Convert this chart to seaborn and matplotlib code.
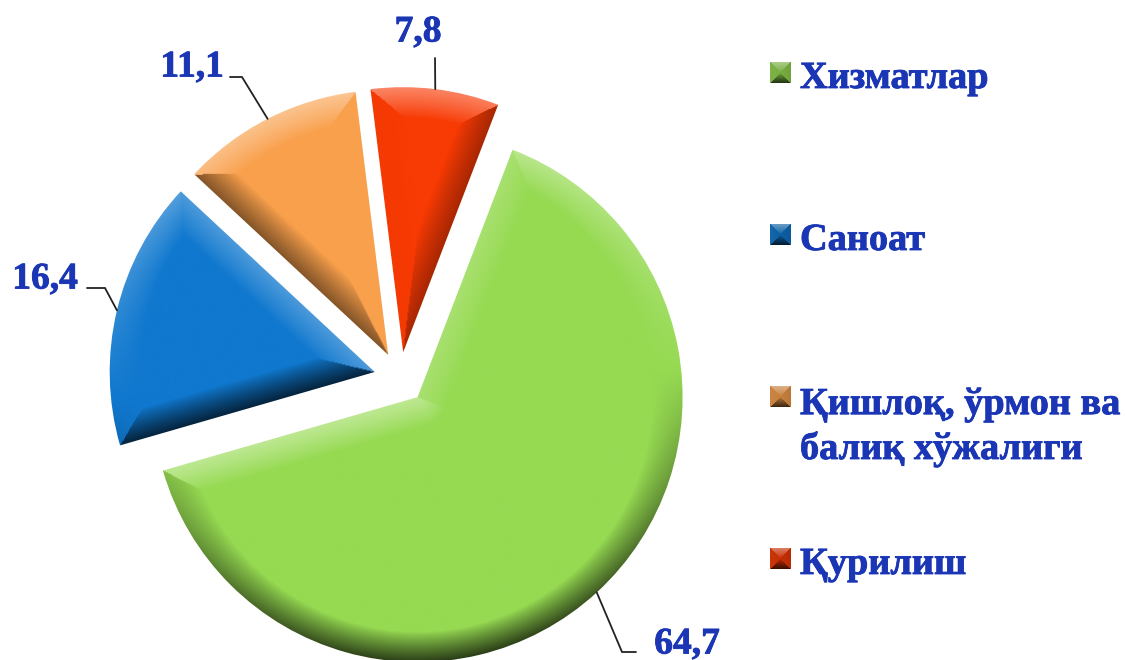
import numpy as np
import seaborn as sns
import matplotlib
matplotlib.use('Agg')
import matplotlib.pyplot as plt
import matplotlib.patheffects as pe

categories = ['Хизматлар', 'Саноат', 'Қишлоқ, ўрмон ва\nбалиқ хўжалиги', 'Қурилиш']
shares = [64.7, 16.4, 11.1, 7.8]
share_labels = ['64,7', '16,4', '11,1', '7,8']

W, H = 1125, 660
TEXT_BLUE = '#1a36b4'
LIGHT = np.array([-0.1, 0.95])

sns.set_theme(style='white')
plt.rcParams['font.family'] = ['Liberation Serif', 'DejaVu Serif']
colors = sns.color_palette(['#96DA52', '#1078CE', '#F9A04C', '#F83A04'])
heavy = [pe.withStroke(linewidth=0.6, foreground=TEXT_BLUE)]


def py(y):
    # picture rows run downwards, the axes run upwards
    return H - y


def bevel_rgba(color, dists, normals, width):
    dists = np.array(dists)
    nearest = dists.argmin(axis=0)
    dist = dists.min(axis=0)
    normals = np.array(normals)
    light = (normals @ LIGHT)[nearest]
    fade = np.clip(1 - dist / width, 0, 1) ** 0.9
    base = np.array(color)
    rgb = np.ones(dist.shape + (3,)) * base
    strength = (light * fade)[..., None]
    lit = rgb + (1 - rgb) * np.clip(strength, 0, 1) * 0.4
    dark = rgb * (1 + np.clip(strength, -1, 0) * 0.75)
    rgb = np.where(strength > 0, lit, dark)
    return np.clip(rgb, 0, 1)


def shade_wedge(ax, wedge, color, width=30):
    cx, cy = wedge.center
    R = wedge.r
    xs = np.arange(np.floor(cx - R) - 1, np.ceil(cx + R) + 2)
    ys = np.arange(np.floor(cy - R) - 1, np.ceil(cy + R) + 2)
    X, Y = np.meshgrid(xs, ys)
    dx, dy = X - cx, Y - cy
    r = np.hypot(dx, dy)
    a1, a2 = np.radians(wedge.theta1), np.radians(wedge.theta2)

    d_arc = np.abs(R - r)
    n_arc = np.stack([dx, dy], axis=-1) / np.maximum(r, 1e-6)[..., None]

    def edge_dist(a):
        ux, uy = np.cos(a), np.sin(a)
        t = np.clip(dx * ux + dy * uy, 0, R)
        return np.hypot(dx - t * ux, dy - t * uy)

    d1, d2 = edge_dist(a1), edge_dist(a2)
    n1 = np.array([np.sin(a1), -np.cos(a1)])
    n2 = np.array([-np.sin(a2), np.cos(a2)])

    dists = np.stack([d_arc, d1, d2])
    nearest = dists.argmin(axis=0)
    fade = np.clip(1 - dists.min(axis=0) / width, 0, 1) ** 0.9
    light = np.where(nearest == 0, n_arc @ LIGHT, np.where(nearest == 1, n1 @ LIGHT, n2 @ LIGHT))
    strength = (light * fade)[..., None]
    base = np.ones(X.shape + (3,)) * np.array(color)
    lit = base + (1 - base) * np.clip(strength, 0, 1) * 0.4
    dark = base * (1 + np.clip(strength, -1, 0) * 0.75)
    rgb = np.clip(np.where(strength > 0, lit, dark), 0, 1)

    im = ax.imshow(rgb, origin='lower', extent=(xs[0], xs[-1], ys[0], ys[-1]),
                   interpolation='bilinear', zorder=2)
    im.set_clip_path(wedge)


def legend_marker(ax, x, y, color, size=21):
    c = np.arange(size) + 0.5
    X, Y = np.meshgrid(c, c)
    dists = [X, size - X, Y, size - Y]
    normals = [[-1, 0], [1, 0], [0, -1], [0, 1]]
    rgb = bevel_rgba(tuple(np.array(color) * 0.8), dists, normals, size / 2)
    ax.imshow(rgb, origin='lower', extent=(x, x + size, py(y) - size / 2, py(y) + size / 2),
              interpolation='bilinear', zorder=3)


fig = plt.figure(figsize=(W / 100, H / 100), dpi=100)
ax = fig.add_axes([0, 0, 1, 1])
# explode is in data units here because the radius is given in pixels
wedges, _ = ax.pie(shares, colors=colors, startangle=69, counterclock=False,
                   explode=[26] * 4, center=(400, py(378)), radius=265, frame=True)

for wedge, color in zip(wedges, colors):
    wedge.set_clip_on(False)
    shade_wedge(ax, wedge, color)

# leader elbow and label centre for each share, in picture pixels
elbows = [(622, 652), (105, 288), (242, 77), (435, 58)]
ends = [(636, 652), (87, 288), (230, 77), (435, 58)]
label_pos = [(687, 644), (45, 279), (192, 67), (418, 32)]

for wedge, lab, elbow, end, pos in zip(wedges, share_labels, elbows, ends, label_pos):
    mid = np.radians((wedge.theta1 + wedge.theta2) / 2)
    tip = (wedge.center[0] + wedge.r * np.cos(mid), wedge.center[1] + wedge.r * np.sin(mid))
    ax.plot([tip[0], elbow[0], end[0]], [tip[1], py(elbow[1]), py(end[1])],
            color='#222222', lw=1.3, zorder=4, solid_joinstyle='miter')
    ax.text(pos[0], py(pos[1]), lab, color=TEXT_BLUE, fontsize=27, fontweight='bold',
            ha='center', va='center', zorder=5, path_effects=heavy)

# legend drawn by hand, the rows are not evenly spaced in the original
marker_rows = [73, 235, 397, 559]
baselines = [88, 250, 459, 574]
for name, color, row, base in zip(categories, colors, marker_rows, baselines):
    legend_marker(ax, 770, row, color)
    ax.text(800, py(base), name, color=TEXT_BLUE, fontsize=27.6, fontweight='bold',
            ha='left', va='baseline', linespacing=1.34, zorder=5, path_effects=heavy)

ax.set_xlim(0, W)
ax.set_ylim(0, H)
ax.set_aspect('equal')
ax.axis('off')
fig.savefig('out.png', dpi=100, facecolor='white')
